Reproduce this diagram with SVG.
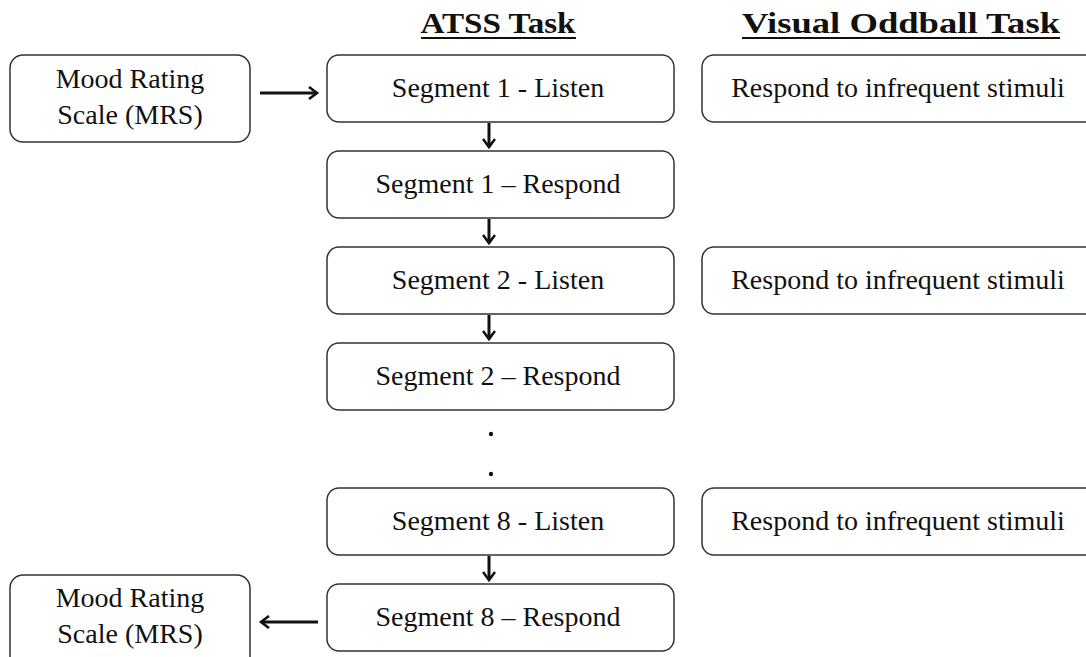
<svg xmlns="http://www.w3.org/2000/svg" width="1086" height="657" viewBox="0 0 1086 657">
<style>
.box{fill:#fff;stroke:#333;stroke-width:1.5}
.t{font-family:"Liberation Serif","DejaVu Serif",serif;font-size:28px;fill:#111;text-anchor:middle}
.h{font-family:"Liberation Serif","DejaVu Serif",serif;font-size:30px;font-weight:bold;fill:#111;text-anchor:middle}
.c{stroke:#111;stroke-width:3;fill:none}
</style>
<defs>
<marker id="ah" markerWidth="12" markerHeight="14" refX="9" refY="7" orient="auto" markerUnits="userSpaceOnUse" viewBox="0 0 12 14">
<path d="M1,1 L9,7 L1,13" fill="none" stroke="#111" stroke-width="2.6"/>
</marker>
</defs>
<rect width="1086" height="657" fill="#fff"/>
<g id="headers">
<text class="h" x="498" y="33" textLength="155" lengthAdjust="spacingAndGlyphs">ATSS Task</text>
<line x1="421" y1="38" x2="576" y2="38" stroke="#111" stroke-width="2"/>
<text class="h" x="901" y="33" textLength="318" lengthAdjust="spacingAndGlyphs">Visual Oddball Task</text>
<line x1="742" y1="38" x2="1060" y2="38" stroke="#111" stroke-width="2"/>
</g>
<g id="mrs1"><rect class="box" x="10" y="55" width="240" height="87" rx="13"/>
<text class="t" x="130" y="88">Mood Rating</text><text class="t" x="130" y="124">Scale (MRS)</text></g>
<g id="s1l"><rect class="box" x="327" y="55" width="347" height="67" rx="12"/><text class="t" x="498" y="97">Segment 1 - Listen</text></g>
<g id="s1r"><rect class="box" x="327" y="151" width="347" height="67" rx="12"/><text class="t" x="498" y="193">Segment 1 – Respond</text></g>
<g id="s2l"><rect class="box" x="327" y="247" width="347" height="67" rx="12"/><text class="t" x="498" y="289">Segment 2 - Listen</text></g>
<g id="s2r"><rect class="box" x="327" y="343" width="347" height="67" rx="12"/><text class="t" x="498" y="385">Segment 2 – Respond</text></g>
<g id="s8l"><rect class="box" x="327" y="488" width="347" height="67" rx="12"/><text class="t" x="498" y="530">Segment 8 - Listen</text></g>
<g id="s8r"><rect class="box" x="327" y="584" width="347" height="67" rx="12"/><text class="t" x="498" y="626">Segment 8 – Respond</text></g>
<g id="v1"><rect class="box" x="702" y="55" width="400" height="67" rx="12"/><text class="t" x="898" y="97">Respond to infrequent stimuli</text></g>
<g id="v2"><rect class="box" x="702" y="247" width="400" height="67" rx="12"/><text class="t" x="898" y="289">Respond to infrequent stimuli</text></g>
<g id="v8"><rect class="box" x="702" y="488" width="400" height="67" rx="12"/><text class="t" x="898" y="530">Respond to infrequent stimuli</text></g>
<g id="mrs2"><rect class="box" x="10" y="575" width="240" height="100" rx="13"/>
<text class="t" x="130" y="607">Mood Rating</text><text class="t" x="130" y="643">Scale (MRS)</text></g>
<g id="dots">
<circle cx="491" cy="434" r="2.2" fill="#111"/>
<circle cx="491" cy="474" r="2.2" fill="#111"/>
</g>
<g id="connectors">
<line class="c" x1="260" y1="93" x2="317" y2="93" marker-end="url(#ah)"/>
<line class="c" x1="489" y1="123" x2="489" y2="147" stroke-width="2.5" marker-end="url(#ah)"/>
<line class="c" x1="489" y1="219" x2="489" y2="243" stroke-width="2.5" marker-end="url(#ah)"/>
<line class="c" x1="489" y1="315" x2="489" y2="339" stroke-width="2.5" marker-end="url(#ah)"/>
<line class="c" x1="489" y1="556" x2="489" y2="580" stroke-width="2.5" marker-end="url(#ah)"/>
<line class="c" x1="318" y1="622" x2="261" y2="622" marker-end="url(#ah)"/>
</g>
</svg>
